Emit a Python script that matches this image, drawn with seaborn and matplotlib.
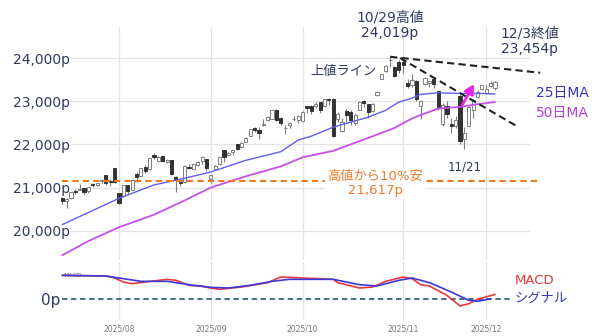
import numpy as np
import pandas as pd
import matplotlib
matplotlib.use("Agg")
import matplotlib.pyplot as plt
import seaborn as sns

# ---------------- data ----------------
dates = ["7/15","7/16","7/17","7/18","7/21","7/22","7/23","7/24","7/25","7/28","7/29","7/30","7/31",
         "8/1","8/4","8/5","8/6","8/7","8/8","8/11","8/12","8/13","8/14","8/15","8/18","8/19","8/20","8/21","8/22","8/25","8/26","8/27","8/28","8/29",
         "9/2","9/3","9/4","9/5","9/8","9/9","9/10","9/11","9/12","9/15","9/16","9/17","9/18","9/19","9/22","9/23","9/24","9/25","9/26","9/29","9/30",
         "10/1","10/2","10/3","10/6","10/7","10/8","10/9","10/10","10/13","10/14","10/15","10/16","10/17","10/20","10/21","10/22","10/23","10/24","10/27","10/28","10/29","10/30","10/31",
         "11/3","11/4","11/5","11/6","11/7","11/10","11/11","11/12","11/13","11/14","11/17","11/18","11/19","11/20","11/21","11/24","11/25","11/26","11/28",
         "12/1","12/2","12/3"]
opens = [20760,20690,20760,20930,20950,20990,20920,21080,21060,21140,21280,21140,21457,
         20870,20800,21050,20950,21320,21270,21470,21440,21760,21620,21730,21600,21630,21250,21130,21130,21480,21440,21520,21620,21660,
         21200,21430,21540,21860,21760,21820,22000,21930,22060,22200,22390,22340,22460,22560,22590,22800,22600,22380,22450,22580,22560,
         22550,22880,22900,22880,22980,22880,23060,23050,22580,22300,22780,22760,22500,22800,23000,22930,22780,23150,23520,23700,23950,23800,23900,
         23920,23420,23370,23480,22900,23400,23420,23520,23230,22470,22890,22470,22430,23130,22130,22430,22800,23100,23280,
         23180,23350,23300]
highs = [20790,20750,20895,20970,21080,20990,21020,21110,21110,21200,21300,21200,21460,
         20880,21060,21060,21180,21350,21460,21530,21690,21800,21730,21740,21660,21630,21260,21200,21530,21550,21560,21620,21720,21670,
         21300,21530,21710,21880,21820,21880,22000,22050,22180,22350,22400,22400,22590,22660,22790,22810,22640,22460,22520,22650,22670,
         22770,22890,22920,22980,22990,23050,23070,23080,22740,22620,22820,22800,22720,23000,23030,22940,22960,23240,23640,23840,24019,23820,23950,
         23960,23520,23640,23490,23020,23560,23480,23560,23240,22950,23000,22620,22650,23200,22400,22900,23050,23260,23370,
         23380,23480,23470]
lows = [20620,20530,20740,20860,20950,20840,20880,21010,21030,21110,21060,21040,21100,
        20610,20790,20850,20940,21130,21260,21340,21400,21650,21580,21590,21570,21290,20900,21030,21110,21440,21420,21500,21540,21390,
        21100,21410,21520,21600,21730,21760,21860,21920,22050,22190,22290,22120,22420,22530,22580,22540,22450,22250,22390,22530,22500,
        22540,22730,22700,22850,22730,22860,22920,22180,22520,22280,22520,22450,22440,22790,22870,22600,22760,23120,23510,23680,23800,23560,23650,
        23650,23300,23330,23000,22580,23370,23330,23300,22800,22430,22620,22270,22370,22000,21900,22420,22600,23080,23250,
        23170,23330,23270]
closes = [20677,20730,20885,20895,20974,20892,21020,21057,21108,21178,21098,21130,21122,
          20650,21053,20916,21169,21242,21450,21385,21681,21713,21710,21623,21630,21315,21172,21100,21497,21449,21544,21590,21705,21455,
          21280,21498,21708,21700,21799,21879,21886,22043,22141,22349,22334,22261,22471,22631,22789,22573,22498,22385,22484,22591,22660,
          22755,22844,22780,22942,22788,23043,23025,22204,22695,22522,22670,22563,22680,22991,22954,22740,22942,23205,23637,23827,23958,23581,23725,
          23835,23349,23500,23054,23005,23527,23468,23406,22870,22901,22708,22433,22564,22078,22273,22872,23026,23215,23366,
          23276,23414,23454]

ma25_dates = ["7/15","8/1","8/13","8/21","9/2","9/12","9/24","9/30","10/3","10/10","10/22","10/28","10/31","11/5","11/7","11/13","11/20","11/28","12/3"]
ma25_vals  = [20140,20750,21060,21190,21360,21630,21830,22100,22190,22400,22630,22790,22980,23070,23160,23195,23180,23180,23165]
ma50_dates = ["7/15","7/23","8/1","8/13","8/22","9/2","9/12","9/24","10/1","10/10","10/22","10/30","11/5","11/7","11/13","11/20","11/26","12/3"]
ma50_vals  = [19430,19760,20080,20370,20700,21000,21260,21490,21700,21850,22150,22380,22600,22680,22830,22870,22930,22980]

macd_dates = ["7/15","7/29","7/31","8/4","8/6","8/11","8/18","8/20","8/25","8/28","9/2","9/4","9/11","9/19","9/24","10/10","10/13","10/20","10/23","10/28","11/3","11/5","11/7","11/11","11/17","11/20","11/24","11/26","12/3"]
macd_vals  = [350,340,310,250,225,250,290,275,200,185,160,140,175,240,325,290,240,160,175,260,325,300,210,190,50,-110,-75,-10,65]
signal_dates = ["7/15","7/29","8/4","8/8","8/18","8/25","9/2","9/8","9/15","9/22","9/26","10/10","10/20","10/24","10/31","11/5","11/11","11/18","11/24","11/26","12/2"]
signal_vals  = [350,340,300,260,260,210,170,160,200,260,290,290,210,190,275,310,240,100,-25,-40,0]

month_labels = ["2025/08","2025/09","2025/10","2025/11","2025/12"]
month_first  = ["8/1","9/2","10/1","11/3","12/1"]
ytick_vals   = [20000,21000,22000,23000,24000]
ytick_labels = ["20,000p","21,000p","22,000p","23,000p","24,000p"]

drop_line_value = 21150          # where the -10% line is drawn in the picture
trend1 = (["10/29", 109.3], [24030, 23660])
trend2 = ([77.3, 104.0], [24000, 22420])
arrow_xy = ([91.2, 94.5], [22860, 23450])

# ---------------- build ----------------
pos = {d: i for i, d in enumerate(dates)}
df = pd.DataFrame({"i": np.arange(len(dates)), "o": opens, "h": highs, "l": lows, "c": closes})
df["up"] = df["c"] >= df["o"]

sns.set_theme(style="white")
plt.rcParams["font.family"] = ["DejaVu Sans", "Noto Sans CJK JP"]

W, H = 600, 336
fig = plt.figure(figsize=(W / 100, H / 100), dpi=100)
def fx(px): return px / W
def fy(py): return 1 - py / H

ax = fig.add_axes([fx(58), fy(260), fx(530) - fx(58), fy(27) - fy(260)])
ax2 = fig.add_axes([fx(58), fy(320), fx(530) - fx(58), fy(262) - fy(320)], sharex=ax)

navy = "#2e3a62"
xmin, xmax = -0.96, 107.0

for a in (ax, ax2):
    for s in a.spines.values():
        s.set_visible(False)
    a.set_xlim(xmin, xmax)
    for d in month_first:
        a.axvline(pos[d], color="#e3e3e3", lw=0.9, zorder=0)

# main panel
ax.set_ylim(19320, 24720)
ax.hlines(ytick_vals, 1.8, xmax, color="#e3e3e3", lw=0.9, zorder=0)
ax.set_yticks(ytick_vals)
ax.set_yticklabels(ytick_labels, color=navy, fontsize=10)
ax.tick_params(axis="y", length=0, pad=-8.6)
ax.tick_params(axis="x", length=0, labelbottom=False)

ax.vlines(df["i"], df["l"], df["h"], color="#7d7d7d", lw=0.8, zorder=2)
body_bottom = np.minimum(df["o"], df["c"])
body_h = np.maximum(np.abs(df["c"] - df["o"]), 8)
ax.bar(df["i"], body_h, bottom=body_bottom, width=0.72,
       color=np.where(df["up"], "white", "#333333"),
       edgecolor=np.where(df["up"], "#808080", "#333333"), linewidth=0.7, zorder=3)

sns.lineplot(x=[pos[d] for d in ma25_dates], y=ma25_vals, ax=ax, color="#5f5ff0", lw=1.0, zorder=4)
sns.lineplot(x=[pos[d] for d in ma50_dates], y=ma50_vals, ax=ax, color="#c84fe8", lw=1.3, zorder=4)

ax.plot([0, 109.3], [drop_line_value] * 2, color="#f0781e", lw=1.5, ls=(0, (3, 2)), zorder=5, clip_on=False)
ax.plot([pos[trend1[0][0]], trend1[0][1]], trend1[1], color="#222222", lw=1.5, ls=(0, (3.5, 2)), zorder=6, clip_on=False)
ax.plot(trend2[0], trend2[1], color="#222222", lw=1.5, ls=(0, (3.5, 2)), zorder=6, clip_on=False)
ax.annotate("", xy=(arrow_xy[0][1], arrow_xy[1][1]), xytext=(arrow_xy[0][0], arrow_xy[1][0]),
            arrowprops=dict(arrowstyle="-|>,head_length=0.45,head_width=0.25", color="#ee22ee", lw=2.0), zorder=7)

ax.text(71.6, 21090, "高値から10%安\n21,617p", color="#ee7a2a", fontsize=9.5, ha="center", va="center",
        linespacing=1.15, zorder=8, bbox=dict(boxstyle="square,pad=0.15", fc="white", ec="none"))

# MACD panel
ax2.set_ylim(-320, 550)
ax2.set_yticks([])
ax2.tick_params(axis="y", length=0, labelleft=False)
ax2.plot([0, 103.2], [0, 0], color="#3a6375", lw=1.3, ls=(0, (3, 2)), zorder=1, clip_on=False)
sns.lineplot(x=[pos[d] for d in macd_dates], y=macd_vals, ax=ax2, color="#e8383d", lw=1.2, zorder=3)
sns.lineplot(x=[pos[d] for d in signal_dates], y=signal_vals, ax=ax2, color="#3a3ad8", lw=1.2, zorder=4)
ax2.set_xticks([pos[d] for d in month_first])
ax2.set_xticklabels(month_labels, fontsize=5.5, color="#777777")
ax2.tick_params(axis="x", length=0, pad=3)
ax2.set_xlabel("")
ax2.set_ylabel("")
ax.set_xlabel("")
ax.set_ylabel("")
ax2.text(0.3, 350, "MACD", fontsize=4.5, color="#6060a8", va="center", ha="left", zorder=2)

# annotations (figure text)
fig.text(fx(390), fy(25.5), "10/29高値\n24,019p", color=navy, fontsize=10, ha="center", va="center", linespacing=1.15)
fig.text(fx(530), fy(41), "12/3終値\n23,454p", color=navy, fontsize=10, ha="center", va="center", linespacing=1.15)
fig.text(fx(343), fy(71), "上値ライン", color=navy, fontsize=9.5, ha="center", va="center")
fig.text(fx(562), fy(93), "25日MA", color="#3535c8", fontsize=10, ha="center", va="center")
fig.text(fx(562), fy(113), "50日MA", color="#b040d8", fontsize=10, ha="center", va="center")
fig.text(fx(465), fy(167), "11/21", color=navy, fontsize=8.5, ha="center", va="center")
fig.text(fx(515), fy(280), "MACD", color="#e8383d", fontsize=9.5, ha="left", va="center")
fig.text(fx(515), fy(298), "シグナル", color="#3535c8", fontsize=9.5, ha="left", va="center")
fig.text(fx(60), fy(300), "0p", color=navy, fontsize=11, ha="right", va="center")

fig.savefig("out.png", dpi=100, facecolor="white")
